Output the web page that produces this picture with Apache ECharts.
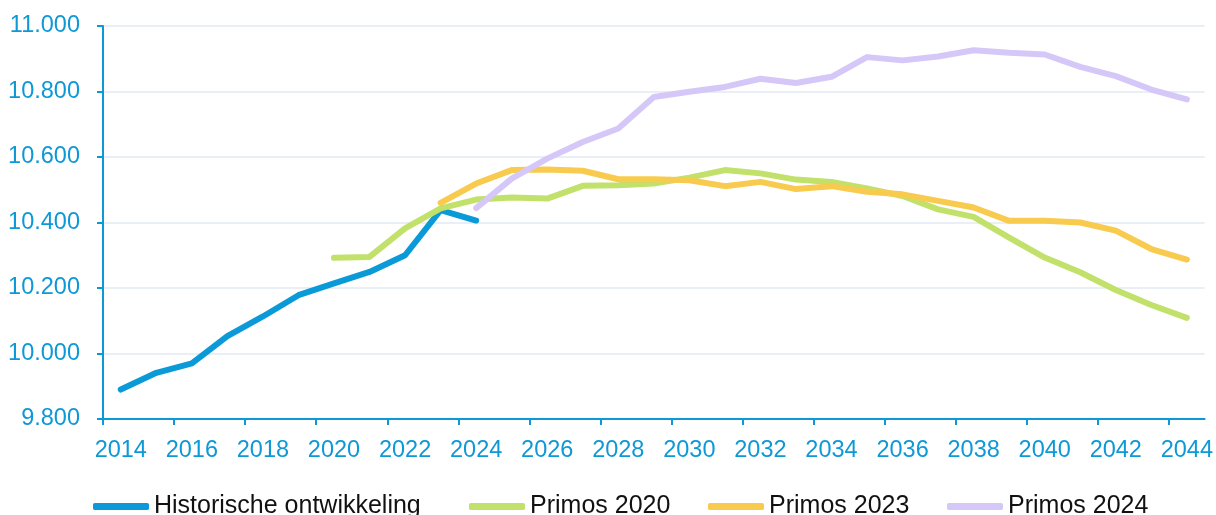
<!DOCTYPE html>
<html>
<head>
<meta charset="utf-8">
<script src="https://cdn.jsdelivr.net/npm/echarts@6/dist/echarts.min.js"></script>
<style>
  html, body { margin: 0; padding: 0; background: #ffffff; }
  #chart { width: 1216px; height: 515px; }
</style>
</head>
<body>
<div id="chart"></div>
<script>
const years = [2014, 2015, 2016, 2017, 2018, 2019, 2020, 2021, 2022, 2023, 2024, 2025, 2026, 2027, 2028, 2029, 2030, 2031, 2032, 2033, 2034, 2035, 2036, 2037, 2038, 2039, 2040, 2041, 2042, 2043, 2044];

const labelYears = [2014, 2016, 2018, 2020, 2022, 2024, 2026, 2028, 2030, 2032, 2034, 2036, 2038, 2040, 2042, 2044];

const historisch = [9890, 9941, 9970, 10053, 10113, 10178, 10214, 10249, 10300, 10438, 10406,
  null, null, null, null, null, null, null, null, null, null, null, null, null, null, null, null, null, null, null, null];

const primos2020 = [null, null, null, null, null, null, 10292, 10295, 10382, 10443, 10470,
  10476, 10473, 10512, 10514, 10519, 10537, 10560, 10550, 10531, 10524,
  10504, 10481, 10440, 10417, 10354, 10293, 10248, 10194, 10148, 10109];

const primos2023 = [null, null, null, null, null, null, null, null, null, 10460, 10519,
  10560, 10562, 10558, 10532, 10532, 10529, 10511, 10524, 10502, 10511,
  10494, 10486, 10466, 10446, 10405, 10405, 10400, 10375, 10319, 10287];

const primos2024 = [null, null, null, null, null, null, null, null, null, null, 10444,
  10534, 10595, 10646, 10687, 10783, 10799, 10814, 10839, 10826, 10845,
  10905, 10895, 10907, 10926, 10918, 10913, 10875, 10847, 10806, 10776];

const seriesNames = ['Historische ontwikkeling', 'Primos 2020', 'Primos 2023', 'Primos 2024'];
const seriesColors = ['#0a9ad8', '#c1e16a', '#f8cb4e', '#d5c8f8'];
const seriesData = [historisch, primos2020, primos2023, primos2024];

const axisBlue = '#0d98d6';
const legendLefts = [88, 464, 703, 942];

// tick marks sit on the year boundaries, between every second year
const tickValues = labelYears.map(function (y) { return y - 0.5; });

const chart = echarts.init(document.getElementById('chart'), null, { renderer: 'canvas' });

const option = {
  animation: false,
  backgroundColor: '#ffffff',
  grid: { left: 103, right: 11, top: 26, bottom: 96, containLabel: false },
  xAxis: {
    type: 'value',
    min: years[0] - 0.5,
    max: years[years.length - 1] + 0.5,
    axisLine: { show: true, onZero: false, lineStyle: { color: axisBlue, width: 2 } },
    axisTick: { show: true, customValues: tickValues, length: 6, lineStyle: { color: axisBlue, width: 2 } },
    axisLabel: {
      customValues: labelYears,
      color: axisBlue,
      fontFamily: 'Liberation Sans, Arial, sans-serif',
      fontSize: 23.5,
      margin: 20,
      formatter: function (v) { return String(v); }
    },
    splitLine: { show: false }
  },
  yAxis: {
    type: 'value',
    min: 9800,
    max: 11000,
    interval: 200,
    axisLine: { show: true, lineStyle: { color: axisBlue, width: 2 } },
    axisTick: { show: true, length: 6, lineStyle: { color: axisBlue, width: 2 } },
    axisLabel: {
      color: axisBlue,
      fontFamily: 'Liberation Sans, Arial, sans-serif',
      fontSize: 23.5,
      margin: 23,
      formatter: function (v) { return (v / 1000).toFixed(3); }
    },
    splitLine: { show: true, lineStyle: { color: '#e2e9f5', width: 1.5 } }
  },
  legend: seriesNames.map(function (name, i) {
    return {
      data: [name],
      left: legendLefts[i],
      top: 489,
      orient: 'horizontal',
      icon: 'roundRect',
      itemWidth: 56,
      itemHeight: 7,
      itemGap: 0,
      selectedMode: false,
      textStyle: {
        color: '#111111',
        fontFamily: 'Liberation Sans, Arial, sans-serif',
        fontSize: 25
      }
    };
  }),
  series: seriesNames.map(function (name, i) {
    return {
      name: name,
      type: 'line',
      data: years.map(function (y, k) { return [y, seriesData[i][k]]; }),
      connectNulls: false,
      showSymbol: false,
      symbol: 'none',
      smooth: false,
      color: seriesColors[i],
      itemStyle: { color: seriesColors[i] },
      lineStyle: { color: seriesColors[i], width: 6, cap: 'round', join: 'round' },
      emphasis: { disabled: true }
    };
  })
};

chart.setOption(option);
</script>
</body>
</html>
